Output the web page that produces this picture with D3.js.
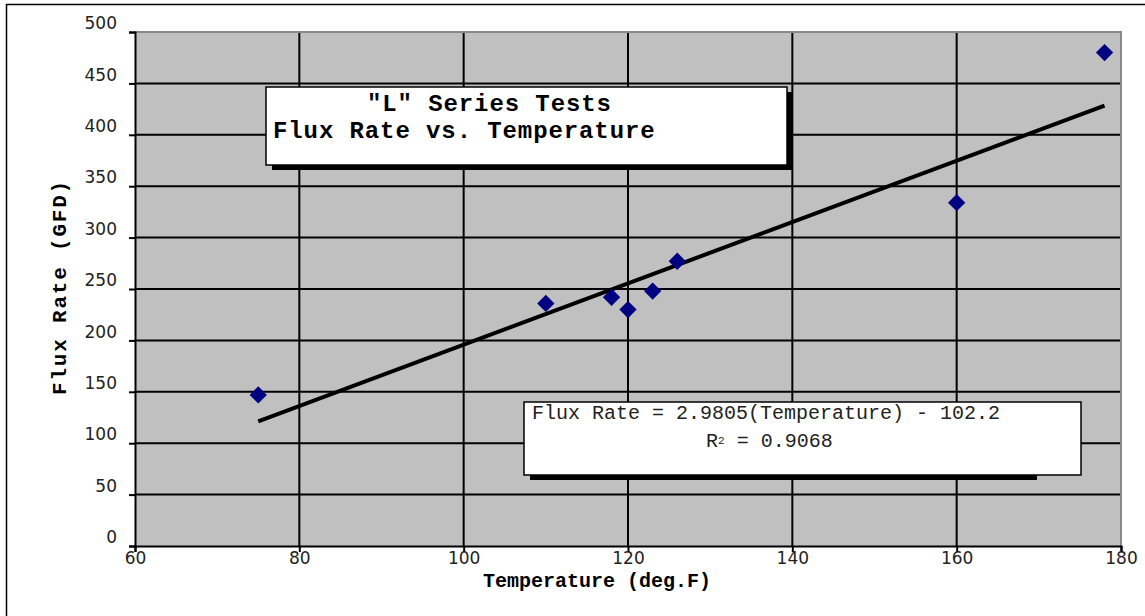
<!DOCTYPE html>
<html>
<head>
<meta charset="utf-8">
<script src="https://cdn.jsdelivr.net/npm/d3@7"></script>
<style>
  html, body { margin: 0; padding: 0; background: #fff; }
  svg { display: block; }
</style>
</head>
<body>
<svg id="chart" width="1145" height="616"></svg>
<script>
// "L" series test results: temperature (deg F) vs. flux rate (GFD)
const temperature = [75, 110, 118, 120, 123, 126, 160, 178];
const fluxRate    = [147, 236, 242, 230, 248, 277, 334, 480];
const xTicks = [60, 80, 100, 120, 140, 160, 180];
const yTicks = [0, 50, 100, 150, 200, 250, 300, 350, 400, 450, 500];
const trendSlope = 2.9805;
const trendIntercept = -102.2;
const rSquared = 0.9068;

const svg = d3.select("#chart");
const W = 1145, H = 616;
const plot = { left: 135, right: 1121, top: 32, bottom: 546 };

const x = d3.scaleLinear().domain([60, 180]).range([plot.left, plot.right]);
const y = d3.scaleLinear().domain([0, 500]).range([plot.bottom, plot.top]);

const mono = "'Liberation Mono', 'Courier New', monospace";
const sans = "'DejaVu Sans', Verdana, sans-serif";

// outer chart frame
svg.append("rect")
  .attr("x", 6.5).attr("y", 4.5)
  .attr("width", W + 10).attr("height", H + 10)
  .attr("fill", "#fff").attr("stroke", "#000").attr("stroke-width", 1.5);

// plot background
svg.append("rect")
  .attr("x", plot.left).attr("y", plot.top)
  .attr("width", plot.right - plot.left).attr("height", plot.bottom - plot.top)
  .attr("fill", "#c0c0c0");

// gridlines
const grid = svg.append("g").attr("stroke", "#000").attr("stroke-width", 2);
grid.selectAll("line.h").data(yTicks.filter(v => v > 0 && v < 500)).join("line")
  .attr("x1", plot.left).attr("x2", plot.right)
  .attr("y1", d => y(d)).attr("y2", d => y(d));
grid.selectAll("line.v").data(xTicks.filter(v => v > 60 && v < 180)).join("line")
  .attr("y1", plot.top).attr("y2", plot.bottom)
  .attr("x1", d => x(d)).attr("x2", d => x(d));

// top and right border of plot area
svg.append("path")
  .attr("d", `M${plot.left},${plot.top}H${plot.right}V${plot.bottom}`)
  .attr("fill", "none").attr("stroke", "#888").attr("stroke-width", 2);

// axes
const yAxis = d3.axisLeft(y).tickValues(yTicks).tickSize(6).tickPadding(12);
const xAxis = d3.axisBottom(x).tickValues(xTicks).tickSize(6).tickPadding(2);

const gy = svg.append("g").attr("transform", `translate(${plot.left},0)`).call(yAxis);
const gx = svg.append("g").attr("transform", `translate(0,${plot.bottom})`).call(xAxis);
[gx, gy].forEach(g => {
  g.select(".domain").attr("stroke", "#000").attr("stroke-width", 2);
  g.selectAll(".tick line").attr("stroke", "#000").attr("stroke-width", 2);
  g.selectAll(".tick text")
    .attr("font-family", sans).attr("font-size", 17).attr("fill", "#222");
});
gy.selectAll(".tick text").attr("dy", "-0.2em");
gx.selectAll(".tick text").attr("dy", "0.6em");

// trend line
const trendX = [d3.min(temperature), d3.max(temperature)];
svg.append("line")
  .attr("x1", x(trendX[0])).attr("y1", y(trendSlope * trendX[0] + trendIntercept))
  .attr("x2", x(trendX[1])).attr("y2", y(trendSlope * trendX[1] + trendIntercept))
  .attr("stroke", "#000").attr("stroke-width", 4);

// data markers
const diamond = d3.symbol().type(d3.symbolSquare).size(150);
svg.append("g").selectAll("path")
  .data(temperature.map((t, i) => [t, fluxRate[i]]))
  .join("path")
  .attr("d", diamond)
  .attr("transform", d => `translate(${x(d[0])},${y(d[1])}) rotate(45)`)
  .attr("fill", "#000080");

// title box with drop shadow
const tb = { x: 266, y: 87, w: 521, h: 78 };
svg.append("rect").attr("x", tb.x + 6).attr("y", tb.y + 5)
  .attr("width", tb.w).attr("height", tb.h).attr("fill", "#000");
svg.append("rect").attr("x", tb.x).attr("y", tb.y)
  .attr("width", tb.w).attr("height", tb.h)
  .attr("fill", "#fff").attr("stroke", "#000").attr("stroke-width", 1.5);
const title = svg.append("text")
  .attr("font-family", mono).attr("font-weight", "bold")
  .attr("font-size", 24).attr("letter-spacing", 0.9).attr("fill", "#000");
title.append("tspan").attr("x", 367).attr("y", 111).text('"L" Series Tests');
title.append("tspan").attr("x", 273).attr("y", 138).text("Flux Rate vs. Temperature");

// regression equation box with drop shadow
const eb = { x: 524, y: 402, w: 557, h: 73 };
svg.append("rect").attr("x", 530).attr("y", eb.y + 5)
  .attr("width", 507).attr("height", eb.h).attr("fill", "#000");
svg.append("rect").attr("x", eb.x).attr("y", eb.y)
  .attr("width", eb.w).attr("height", eb.h)
  .attr("fill", "#fff").attr("stroke", "#000").attr("stroke-width", 1.5);
svg.append("text")
  .attr("x", 532).attr("y", 419)
  .attr("font-family", mono).attr("font-size", 20).attr("fill", "#222")
  .text(`Flux Rate = ${trendSlope}(Temperature) - ${Math.abs(trendIntercept)}`);
const r2 = svg.append("text")
  .attr("x", 706).attr("y", 447)
  .attr("font-family", mono).attr("font-size", 20).attr("fill", "#222");
r2.append("tspan").text("R");
r2.append("tspan").attr("font-size", 11).attr("dy", -3).text("2");
r2.append("tspan").attr("dy", 3).text(` = ${rSquared.toFixed(4)}`);

// axis titles
svg.append("text")
  .attr("x", 597).attr("y", 587).attr("text-anchor", "middle")
  .attr("font-family", mono).attr("font-weight", "bold").attr("font-size", 20)
  .attr("fill", "#000")
  .text("Temperature (deg.F)");
svg.append("text")
  .attr("transform", `translate(66,${(plot.top + plot.bottom) / 2 - 2}) rotate(-90)`)
  .attr("text-anchor", "middle")
  .attr("font-family", mono).attr("font-weight", "bold").attr("font-size", 21)
  .attr("letter-spacing", 1.8)
  .attr("fill", "#000")
  .text("Flux Rate (GFD)");
</script>
</body>
</html>
